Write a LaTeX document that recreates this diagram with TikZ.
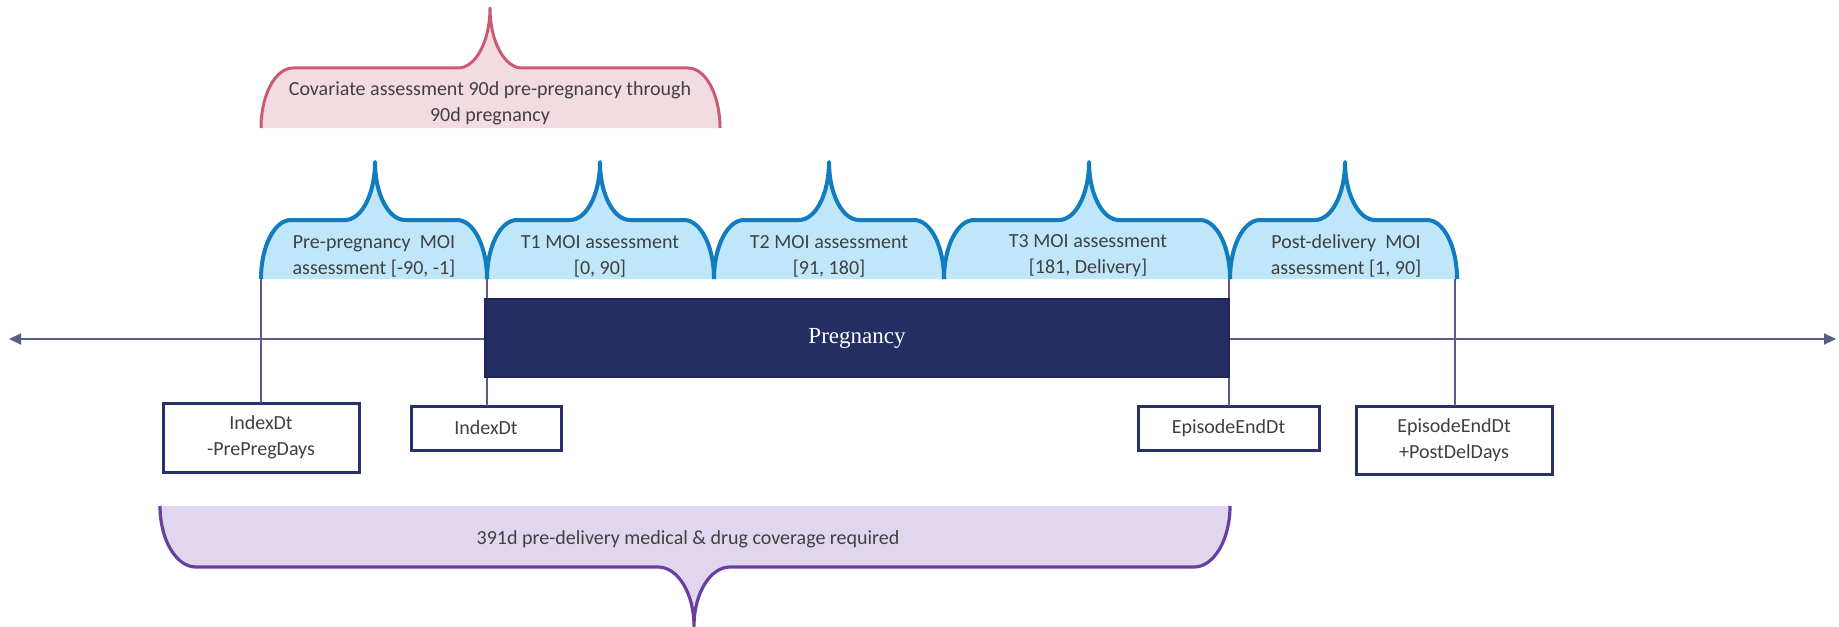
\documentclass[tikz,border=0pt]{standalone}
\usepackage{fontspec}
\setmainfont{Carlito}
\newfontfamily\pregfont{Liberation Serif}
\usetikzlibrary{arrows.meta}
\definecolor{navy}{RGB}{37,46,99}
\definecolor{navyedge}{RGB}{30,37,85}
\definecolor{boxedge}{RGB}{40,48,110}
\definecolor{axiscol}{RGB}{88,93,138}
\definecolor{bluel}{RGB}{17,124,192}
\definecolor{bluef}{RGB}{192,230,249}
\definecolor{pinkl}{RGB}{204,90,115}
\definecolor{pinkf}{RGB}{243,220,225}
\definecolor{purl}{RGB}{106,62,160}
\definecolor{purf}{RGB}{224,215,238}
\definecolor{txt}{RGB}{64,64,64}
% #1 xL, #2 xR, #3 xTip, #4 yBase, #5 yMid, #6 yTip, #7 corner width
\newcommand\bracepath[7]{(#1,#4) .. controls (#1,{#4-0.5523*(#4-#5)}) and ({#1+#7-0.5523*#7},#5) .. ({#1+#7},#5) -- ({#3-#7},#5) .. controls ({#3-#7+0.5523*#7},#5) and (#3,{#6+0.5523*(#5-#6)}) .. (#3,#6) .. controls (#3,{#6+0.5523*(#5-#6)}) and ({#3+#7-0.5523*#7},#5) .. ({#3+#7},#5) -- ({#2-#7},#5) .. controls ({#2-#7+0.5523*#7},#5) and (#2,{#4-0.5523*(#4-#5)}) .. (#2,#4)}
\begin{document}
\begin{tikzpicture}[x=0.5pt,y=-0.5pt,
  lbl/.style={text=txt,font=\fontsize{10}{13}\selectfont,align=center,inner sep=0pt},
  datebox/.style={draw=boxedge,line width=1.5pt,fill=white,text=txt,font=\fontsize{10}{13}\selectfont,align=center,inner sep=0pt,outer sep=0pt},
  vline/.style={draw=axiscol,line width=1pt},
  bluebrace/.style={draw=bluel,line width=2pt,line join=round},
  pinkbrace/.style={draw=pinkl,line width=1.5pt,line join=round},
  purbrace/.style={draw=purl,line width=1.6pt,line join=round}]
\useasboundingbox (0,0) rectangle (1839,626);

% covariate brace (pink)
\fill[pinkf] \bracepath{261}{720}{490}{128}{68}{8}{32} -- cycle;
\draw[pinkbrace] \bracepath{261}{720}{490}{128}{68}{8}{32};
\node[lbl] (tcov) at (490,103) {Covariate assessment 90d pre-pregnancy through\\90d pregnancy};

% MOI braces (blue)
\fill[bluef] \bracepath{261}{487}{375}{279}{220}{162}{30} -- cycle;
\fill[bluef] \bracepath{487}{714}{600}{279}{220}{162}{30} -- cycle;
\fill[bluef] \bracepath{714}{944}{829}{279}{220}{162}{30} -- cycle;
\fill[bluef] \bracepath{944}{1230}{1089}{279}{220}{162}{30} -- cycle;
\fill[bluef] \bracepath{1230}{1457}{1345}{279}{220}{162}{30} -- cycle;
\draw[bluebrace] \bracepath{261}{487}{375}{279}{220}{162}{30};
\draw[bluebrace] \bracepath{487}{714}{600}{279}{220}{162}{30};
\draw[bluebrace] \bracepath{714}{944}{829}{279}{220}{162}{30};
\draw[bluebrace] \bracepath{944}{1230}{1089}{279}{220}{162}{30};
\draw[bluebrace] \bracepath{1230}{1457}{1345}{279}{220}{162}{30};
\node[lbl] (tpre) at (374,256) {Pre-pregnancy\ \ MOI\\assessment [-90, -1]};
\node[lbl] (tt1) at (600,256) {T1 MOI assessment\\{[0, 90]}};
\node[lbl] (tt2) at (829,256) {T2 MOI assessment\\{[91, 180]}};
\node[lbl] (tt3) at (1088,256) {T3 MOI assessment\\{[181, Delivery]}};
\node[lbl] (tpost) at (1346,256) {Post-delivery\ \ MOI\\assessment [1, 90]};

% coverage brace (purple)
\fill[purf] \bracepath{160}{1230}{694}{506}{567}{626}{36} -- cycle;
\draw[purbrace] \bracepath{160}{1230}{694}{506}{567}{626}{36};
\node[lbl] (tcovg) at (688,539) {391d pre-delivery medical \& drug coverage required};

% date boxes
\node[datebox,minimum width=98pt,minimum height=34.5pt] (b1) at (261,437.5) {IndexDt\\-PrePregDays};
\node[datebox,minimum width=75pt,minimum height=22pt] (b2) at (486,428) {IndexDt};
\node[datebox,minimum width=90.5pt,minimum height=22pt] (b3) at (1228.5,428) {EpisodeEndDt};
\node[datebox,minimum width=98pt,minimum height=34pt] (b4) at (1454,440) {EpisodeEndDt\\+PostDelDays};

% connectors from brace ends to date boxes
\coordinate (t1) at (261,279);
\coordinate (t2) at (487,279);
\coordinate (t3) at (1229,279);
\coordinate (t4) at (1455,279);
\draw[vline] (t1) -- (t1 |- b1.north);
\draw[vline] (t2) -- (t2 |- b2.north);
\draw[vline] (t3) -- (t3 |- b3.north);
\draw[vline] (t4) -- (t4 |- b4.north);

% time axis
\coordinate (axL) at (9,339);
\coordinate (axR) at (1836,339);
\draw[axiscol,line width=1pt,{Triangle[length=6pt,width=5.5pt]}-{Triangle[length=6pt,width=5.5pt]}] (axL) -- (axR);

% pregnancy bar
\node[draw=navyedge,line width=0.8pt,fill=navy,minimum width=372pt,minimum height=39pt,inner sep=0pt,outer sep=0pt,text=white,font=\pregfont\fontsize{11.5}{13}\selectfont] (preg) at (857,338) {Pregnancy};
\end{tikzpicture}
\end{document}
